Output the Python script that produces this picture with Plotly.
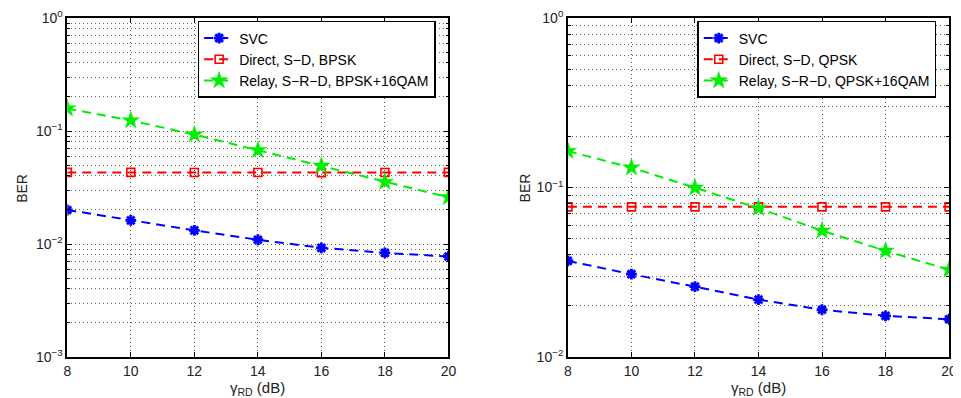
import plotly.graph_objects as go

gamma_rd = [8, 10, 12, 14, 16, 18, 20]

# Left panel (BPSK)
svc_left = [0.0200, 0.0162, 0.0132, 0.0109, 0.00925, 0.00835, 0.00775]
direct_left = [0.0430, 0.0430, 0.0429, 0.0429, 0.0428, 0.0429, 0.0430]
relay_left = [0.158, 0.124, 0.093, 0.0676, 0.0492, 0.0354, 0.0259]

# Right panel (QPSK)
svc_right = [0.0369, 0.0308, 0.0260, 0.0218, 0.0190, 0.0175, 0.0167]
direct_right = [0.0769, 0.0769, 0.0769, 0.0769, 0.0769, 0.0769, 0.0769]
relay_right = [0.164, 0.131, 0.0997, 0.0755, 0.0556, 0.0423, 0.0327]

names_left = ["SVC", "Direct, S\u2212D, BPSK", "Relay, S\u2212R\u2212D, BPSK+16QAM"]
names_right = ["SVC", "Direct, S\u2212D, QPSK", "Relay, S\u2212R\u2212D, QPSK+16QAM"]

x_ticks = [8, 10, 12, 14, 16, 18, 20]
decades_left = [1e-3, 1e-2, 1e-1, 1.0]
decades_right = [1e-2, 1e-1, 1.0]
decade_text_left = ["10<sup>\u22123</sup>", "10<sup>\u22122</sup>", "10<sup>\u22121</sup>", "10<sup>0</sup>"]
decade_text_right = ["10<sup>\u22122</sup>", "10<sup>\u22121</sup>", "10<sup>0</sup>"]
minor_left = [m * 10.0 ** e for e in (-3, -2, -1) for m in range(2, 10)]
minor_right = [m * 10.0 ** e for e in (-2, -1) for m in range(2, 10)]

# page body has an 8px default margin: work in window pixels and shift
OFF = 8
W, H = 961 - OFF, 398 - OFF
TOP, BOT = 16 - OFF, 357 - OFF
PH = BOT - TOP


def px_x(x):
    return (x - OFF) / W


def px_y(y):
    return (BOT - (y - OFF)) / PH


fig = go.Figure()

styles = [
    dict(color="#0000ff", symbol="asterisk-open", size=9, mline=2.8),
    dict(color="#ff0000", symbol="square-open", size=8, mline=1.6),
    dict(color="#00ee00", symbol="star", size=13, mline=0.5),
]
DASH = "9px,6px"

for series, names, xa, ya, lg in [
    ((svc_left, direct_left, relay_left), names_left, "x", "y", "legend"),
    ((svc_right, direct_right, relay_right), names_right, "x2", "y2", "legend2"),
]:
    for s, name, st in zip(series, names, styles):
        fig.add_trace(go.Scatter(
            x=gamma_rd, y=s, name=name, mode="lines+markers",
            line=dict(color=st["color"], width=2, dash=DASH),
            marker=dict(symbol=st["symbol"], size=st["size"], color=st["color"],
                        line=dict(color=st["color"], width=st["mline"])),
            xaxis=xa, yaxis=ya, legend=lg,
        ))

FAM = "Liberation Sans, Arial, sans-serif"
font = dict(family=FAM, size=14, color="#222")
grid = dict(showgrid=True, gridcolor="#555", griddash="1px,3px", gridwidth=1)
axis_common = dict(showline=True, linecolor="black", linewidth=1.5, mirror="allticks",
                   ticks="inside", ticklen=5, tickcolor="black", zeroline=False,
                   tickfont=font, ticklabeloverflow="allow", **grid)
minor_common = dict(ticks="inside", ticklen=3, tickcolor="black", showgrid=True,
                    gridcolor="#666", griddash="1px,3px", gridwidth=1)

legend_common = dict(xanchor="left", yanchor="top", bgcolor="white",
                     bordercolor="black", borderwidth=1.5,
                     font=dict(family=FAM, size=14, color="black"), tracegroupgap=0)

fig.update_layout(
    width=W, height=H,
    margin=dict(l=0, r=0, t=TOP, b=H - BOT),
    paper_bgcolor="white", plot_bgcolor="white",
    font=font,
    xaxis=dict(domain=[px_x(64), px_x(450)], range=[8, 20], tickvals=x_ticks,
               anchor="y", **axis_common),
    yaxis=dict(domain=[0, 1], type="log", range=[-3, 0], tickvals=decades_left,
               ticktext=decade_text_left, anchor="x",
               minor=dict(tickvals=minor_left, **minor_common), **axis_common),
    xaxis2=dict(domain=[px_x(571), px_x(957)], range=[8, 20], tickvals=x_ticks,
                anchor="y2", **axis_common),
    yaxis2=dict(domain=[0, 1], type="log", range=[-2, 0], tickvals=decades_right,
                ticktext=decade_text_right, anchor="x2",
                minor=dict(tickvals=minor_right, **minor_common), **axis_common),
    legend=dict(x=px_x(196), y=px_y(19), **legend_common),
    legend2=dict(x=px_x(702), y=px_y(19), **legend_common),
    showlegend=True,
)

for xc in ((64 + 450) / 2, (571 + 957) / 2):
    fig.add_annotation(x=px_x(xc), y=px_y(389), xref="paper", yref="paper",
                       text="\u03b3<sub>RD</sub> (dB)", showarrow=False,
                       font=dict(family=FAM, size=15, color="#222"),
                       xanchor="center", yanchor="middle")
for xc in (18, 528):
    fig.add_annotation(x=px_x(xc), y=px_y(187), xref="paper", yref="paper",
                       text="BER", textangle=-90, showarrow=False,
                       font=dict(family=FAM, size=14, color="#222"),
                       xanchor="center", yanchor="middle")

fig.write_html("out.html")
